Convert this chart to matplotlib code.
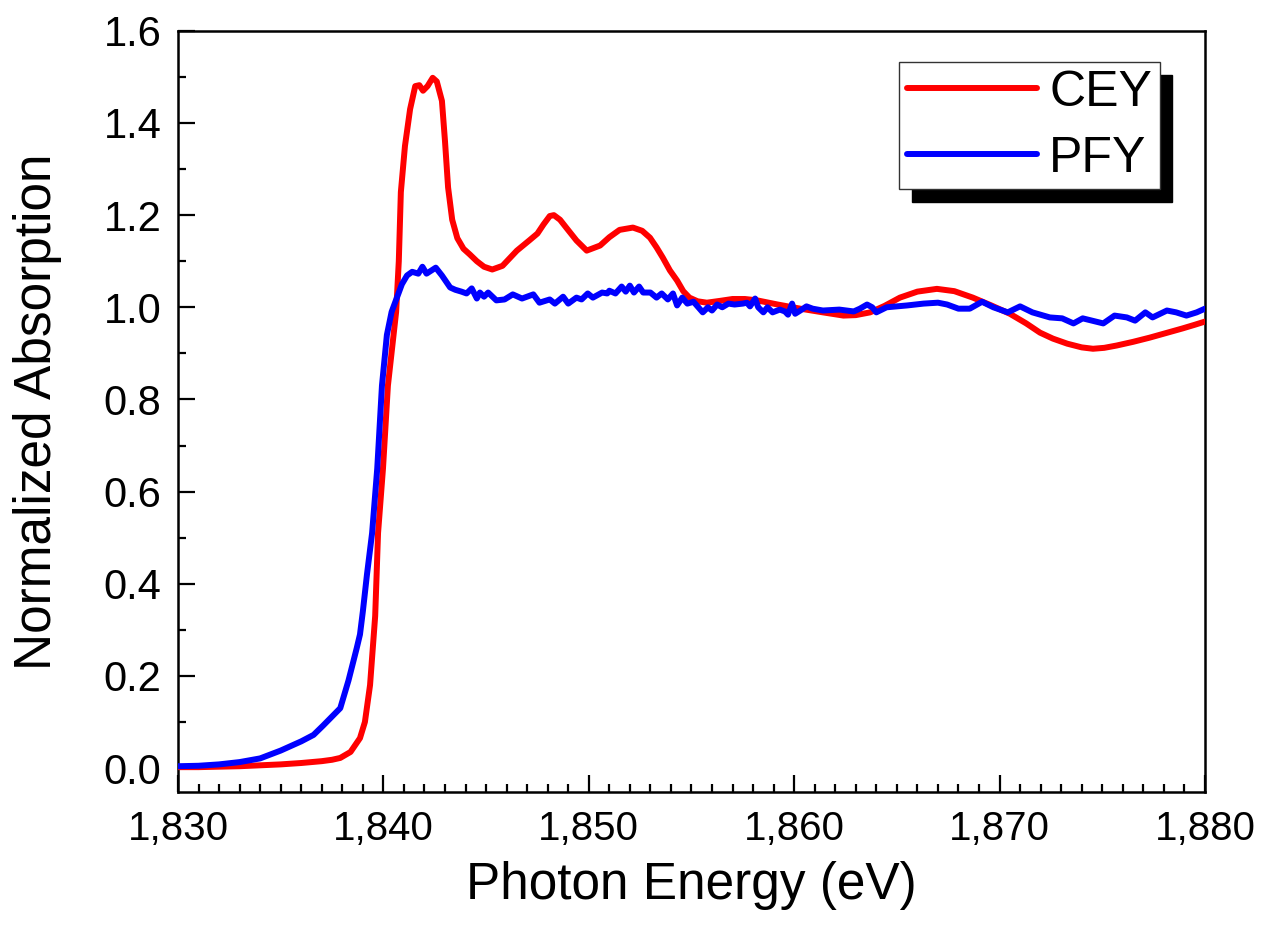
import matplotlib
matplotlib.use("Agg")
import matplotlib.pyplot as plt
from matplotlib.patches import Shadow
from matplotlib.ticker import MultipleLocator, FuncFormatter

# CEY (total electron yield) spectrum
cey_energy = [1830.0, 1831.0, 1832.0, 1833.0, 1834.0, 1835.0, 1836.0, 1837.0, 1837.5,
              1837.9, 1838.4, 1838.86, 1839.1, 1839.35, 1839.6, 1839.74, 1839.98,
              1840.22, 1840.47, 1840.62, 1840.75, 1840.85, 1841.05, 1841.3, 1841.55,
              1841.75, 1841.93, 1842.15, 1842.4, 1842.6, 1842.85, 1843.0, 1843.15,
              1843.35, 1843.6, 1843.9, 1844.2, 1844.55, 1844.9, 1845.3, 1845.8,
              1846.5, 1847.1, 1847.5, 1847.8, 1848.1, 1848.3, 1848.6, 1848.9, 1849.4,
              1849.9, 1850.55, 1851.0, 1851.5, 1852.15, 1852.6, 1852.98, 1853.3,
              1853.6, 1853.95, 1854.3, 1854.6, 1854.9, 1855.3, 1855.75, 1856.4,
              1857.0, 1857.6, 1858.2, 1859.2, 1860.3, 1861.4, 1862.4, 1863.0, 1863.7,
              1864.4, 1865.15, 1866.0, 1866.95, 1867.8, 1868.7, 1869.6, 1870.5,
              1871.3, 1871.97, 1872.6, 1873.3, 1874.0, 1874.55, 1875.1, 1875.7,
              1876.5, 1877.3, 1878.1, 1878.9, 1879.5, 1880.0]
cey_value = [0.002, 0.002, 0.003, 0.004, 0.006, 0.008, 0.011, 0.015, 0.018,
             0.022, 0.035, 0.065, 0.10, 0.18, 0.33, 0.51, 0.65,
             0.83, 0.93, 0.99, 1.10, 1.25, 1.35, 1.43, 1.48,
             1.482, 1.47, 1.48, 1.498, 1.49, 1.448, 1.36, 1.26,
             1.19, 1.15, 1.127, 1.115, 1.10, 1.088, 1.082, 1.09,
             1.123, 1.145, 1.16, 1.18, 1.198, 1.20, 1.19, 1.173, 1.145,
             1.123, 1.134, 1.152, 1.168, 1.173, 1.166, 1.151, 1.13,
             1.108, 1.08, 1.058, 1.035, 1.021, 1.013, 1.010, 1.014,
             1.018, 1.018, 1.015, 1.006, 0.997, 0.989, 0.982, 0.983, 0.989,
             1.003, 1.021, 1.034, 1.04, 1.035, 1.021, 1.004, 0.986,
             0.965, 0.945, 0.932, 0.921, 0.913, 0.91, 0.912, 0.917,
             0.925, 0.934, 0.944, 0.954, 0.962, 0.969]

# PFY (partial fluorescence yield) spectrum
pfy_energy = [1830.0, 1831.0, 1832.0, 1833.0, 1834.0, 1835.0, 1836.0, 1836.6, 1837.06,
              1837.5, 1837.9, 1838.1, 1838.3, 1838.5, 1838.7, 1838.86, 1839.0, 1839.2,
              1839.45, 1839.7, 1839.93, 1840.17, 1840.4, 1840.65, 1840.9, 1841.15,
              1841.4, 1841.7, 1841.9, 1842.1, 1842.55, 1842.85, 1843.25, 1843.5,
              1843.8, 1844.05, 1844.3, 1844.55, 1844.7, 1844.9, 1845.1, 1845.5,
              1845.9, 1846.3, 1846.75, 1847.3, 1847.6, 1848.1, 1848.35, 1848.75,
              1849.0, 1849.4, 1849.65, 1849.95, 1850.2, 1850.65, 1850.9, 1851.0,
              1851.3, 1851.6, 1851.8, 1852.0, 1852.2, 1852.45, 1852.65, 1853.0,
              1853.3, 1853.55, 1853.85, 1854.1, 1854.3, 1854.55, 1854.8, 1855.1,
              1855.55, 1855.8, 1856.0, 1856.25, 1856.5, 1856.8, 1857.1, 1857.5,
              1857.7, 1857.85, 1858.1, 1858.25, 1858.5, 1858.7, 1858.95, 1859.3,
              1859.55, 1859.7, 1859.9, 1860.05, 1860.3, 1860.6, 1860.9, 1861.4,
              1862.2, 1862.9, 1863.2, 1863.55, 1863.8, 1864.0, 1864.5, 1865.5,
              1866.3, 1867.0, 1867.45, 1868.0, 1868.55, 1869.15, 1869.7, 1870.4,
              1871.0, 1871.6, 1872.45, 1873.05, 1873.6, 1874.05, 1875.05, 1875.6,
              1876.2, 1876.6, 1877.1, 1877.45, 1878.15, 1878.6, 1879.1, 1879.6,
              1880.0]
pfy_value = [0.004, 0.005, 0.008, 0.013, 0.021, 0.038, 0.058, 0.072, 0.092,
             0.112, 0.13, 0.16, 0.19, 0.225, 0.26, 0.29, 0.34, 0.42,
             0.51, 0.65, 0.83, 0.94, 0.99, 1.02, 1.05, 1.069,
             1.077, 1.073, 1.088, 1.073, 1.086, 1.069, 1.043, 1.038,
             1.034, 1.030, 1.041, 1.019, 1.032, 1.023, 1.032, 1.015,
             1.017, 1.028, 1.019, 1.028, 1.010, 1.017, 1.008, 1.023,
             1.008, 1.021, 1.017, 1.030, 1.021, 1.032, 1.030, 1.036,
             1.030, 1.045, 1.034, 1.047, 1.032, 1.045, 1.032, 1.032,
             1.021, 1.030, 1.017, 1.030, 1.004, 1.021, 1.008, 1.012,
             0.989, 1.000, 0.993, 1.006, 1.000, 1.008, 1.006, 1.008,
             1.010, 1.002, 1.019, 1.000, 0.989, 1.000, 0.989, 0.995,
             0.991, 0.984, 1.008, 0.986, 0.993, 1.002, 0.997, 0.993,
             0.995, 0.991, 0.997, 1.006, 1.000, 0.989, 1.000, 1.004,
             1.008, 1.010, 1.006, 0.997, 0.997, 1.012, 1.000, 0.989,
             1.002, 0.989, 0.978, 0.976, 0.965, 0.976, 0.965, 0.982,
             0.978, 0.971, 0.989, 0.978, 0.993, 0.989, 0.982, 0.989,
             0.997]

x_limits = (1830, 1880)
y_limits = (-0.052, 1.6)
x_ticks = [1830, 1840, 1850, 1860, 1870, 1880]
y_ticks = [0.0, 0.2, 0.4, 0.6, 0.8, 1.0, 1.2, 1.4, 1.6]

plt.rcParams["font.family"] = ["Liberation Sans", "DejaVu Sans"]

fig = plt.figure(figsize=(12.67, 9.34), dpi=100)
ax = fig.add_axes([0.1405, 0.152, 0.8105, 0.815])

ax.plot(cey_energy, cey_value, color="#ff0000", lw=4.3, label="CEY",
        solid_joinstyle="round", solid_capstyle="round", zorder=3)
ax.plot(pfy_energy, pfy_value, color="#0000ff", lw=4.3, label="PFY",
        solid_joinstyle="round", solid_capstyle="round", zorder=4)

ax.set_xlim(*x_limits)
ax.set_ylim(*y_limits)
ax.set_xticks(x_ticks)
ax.set_yticks(y_ticks)
ax.xaxis.set_minor_locator(MultipleLocator(1))
ax.yaxis.set_minor_locator(MultipleLocator(0.1))
ax.xaxis.set_major_formatter(FuncFormatter(lambda v, p: f"{int(round(v)):,}"))
ax.yaxis.set_major_formatter(FuncFormatter(lambda v, p: f"{v:.1f}"))

for s in ax.spines.values():
    s.set_linewidth(1.8)
ax.tick_params(which="both", direction="in", top=False, right=False, width=1.6)
ax.tick_params(which="major", length=12)
ax.tick_params(which="minor", length=6)
ax.tick_params(axis="y", which="major", labelsize=30, pad=12)
ax.tick_params(axis="x", which="major", labelsize=29, pad=13)

ax.set_xlabel("Photon Energy (eV)", fontsize=37, labelpad=9)
ax.set_ylabel("Normalized Absorption", fontsize=37, labelpad=30)

leg = ax.legend(loc="upper right", bbox_to_anchor=(0.956, 0.959),
                borderaxespad=0, fontsize=36, frameon=True, fancybox=False,
                handlelength=2.6, handletextpad=0.25, borderpad=0.15,
                labelspacing=0.4)
frame = leg.get_frame()
frame.set_edgecolor("#333333")
frame.set_linewidth(1.0)
frame.set_facecolor("white")
frame.set_alpha(1)
for h in leg.get_lines():
    h.set_linewidth(4.3)
    h.set_solid_capstyle("round")

# drop shadow behind the legend box
fig.canvas.draw()
shadow = Shadow(leg.legendPatch, 9, -9, color="black", alpha=1)
shadow.set_zorder(leg.get_zorder() - 0.1)
shadow.set_clip_on(False)
ax.add_artist(shadow)

fig.savefig("out.png", dpi=100)
